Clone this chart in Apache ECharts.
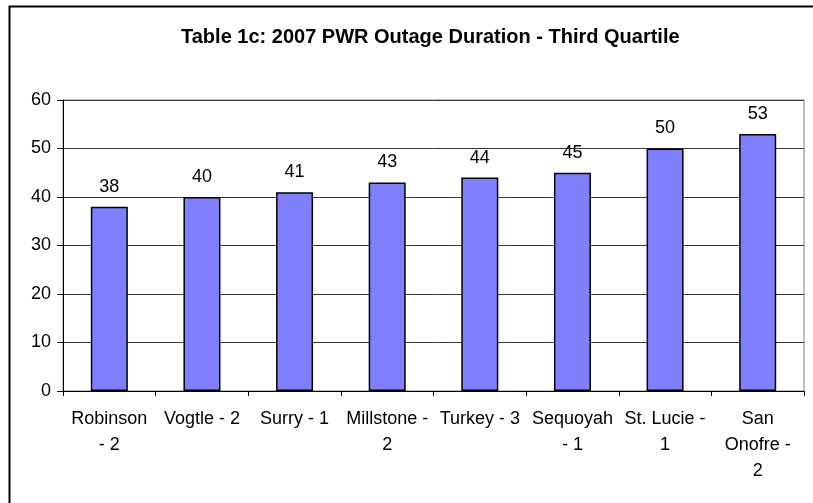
<!DOCTYPE html>
<html>
<head>
<meta charset="utf-8">
<script src="https://cdn.jsdelivr.net/npm/echarts@6/dist/echarts.min.js"></script>
<style>
  html, body { margin: 0; padding: 0; background: #fff; }
  #chart { width: 813px; height: 503px; }
</style>
</head>
<body>
<div id="chart"></div>
<script>
// plant names (wrapped the way the original chart wraps them)
var plants = ['Robinson\n- 2', 'Vogtle - 2', 'Surry - 1', 'Millstone -\n2', 'Turkey - 3', 'Sequoyah\n- 1', 'St. Lucie -\n1', 'San\nOnofre -\n2'];
// third quartile outage duration (days)
var durations = [38, 40, 41, 43, 44, 45, 50, 53];
var yTicks = [0, 10, 20, 30, 40, 50, 60];

var chart = echarts.init(document.getElementById('chart'));

var option = {
  backgroundColor: '#ffffff',
  animation: false,
  textStyle: { fontFamily: 'Liberation Sans, Arial, sans-serif' },
  title: {
    text: 'Table 1c: 2007 PWR Outage Duration - Third Quartile',
    left: 176,
    top: 22,
    textStyle: { fontSize: 20, fontWeight: 'bold', color: '#000', fontFamily: 'Liberation Sans, Arial, sans-serif' }
  },
  // outer chart frame (only top and left edges are in view)
  graphic: [{
    type: 'rect',
    left: 7,
    top: 4,
    shape: { width: 830, height: 530 },
    style: { fill: 'none', stroke: '#000', lineWidth: 2 },
    silent: true
  }],
  grid: {
    left: 63,
    right: 9,
    top: 100,
    bottom: 112,
    show: true,
    borderColor: '#808080',
    borderWidth: 1
  },
  xAxis: {
    type: 'category',
    data: plants,
    axisLine: { lineStyle: { color: '#000', width: 1 } },
    axisTick: { show: true, alignWithLabel: false, length: 5, lineStyle: { color: '#000' } },
    axisLabel: {
      interval: 0,
      margin: 15,
      fontSize: 18,
      lineHeight: 26,
      color: '#000'
    }
  },
  yAxis: {
    type: 'value',
    min: yTicks[0],
    max: yTicks[yTicks.length - 1],
    interval: yTicks[1] - yTicks[0],
    axisLine: { show: true, lineStyle: { color: '#000' } },
    axisTick: { show: true, length: 6, lineStyle: { color: '#000' } },
    axisLabel: { fontSize: 18, color: '#000', margin: 12 },
    splitLine: { show: true, lineStyle: { color: '#3a3a3a', width: 1 } }
  },
  series: [{
    type: 'bar',
    data: durations,
    barWidth: 37,
    itemStyle: { color: '#8080ff', borderColor: '#000', borderWidth: 1.5 },
    label: {
      show: true,
      position: 'top',
      distance: 11,
      fontSize: 18,
      color: '#000'
    }
  }]
};

chart.setOption(option);
</script>
</body>
</html>
